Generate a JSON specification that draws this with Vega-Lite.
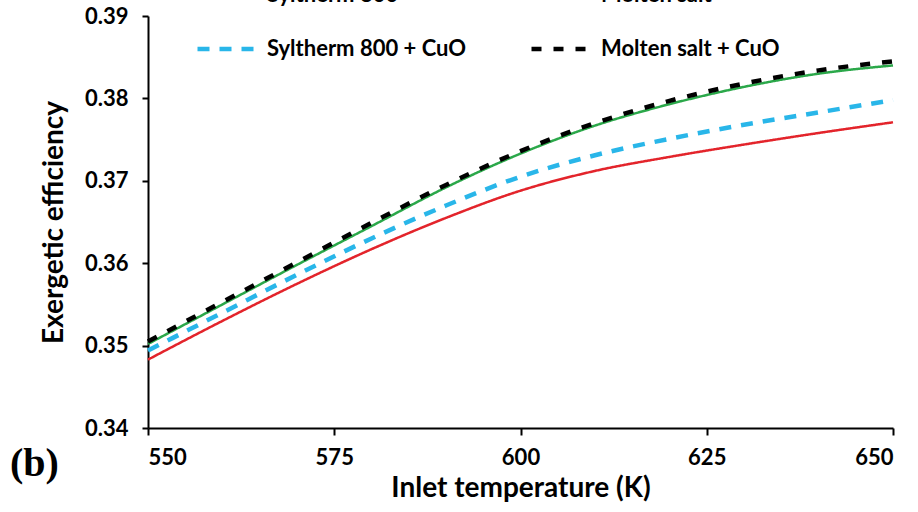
{
  "$schema": "https://vega.github.io/schema/vega-lite/v6.json",
  "autosize": {"type": "none"},
  "width": 745,
  "height": 412,
  "padding": {"left": 148, "top": 16, "right": 25, "bottom": 84},
  "background": "white",
  "title": {
    "text": "(b)",
    "orient": "bottom",
    "anchor": "start",
    "frame": "group",
    "font": "Liberation Serif",
    "fontSize": 40,
    "fontWeight": "bold",
    "color": "black",
    "dx": -138,
    "dy": -58,
    "offset": 0
  },
  "data": {
    "values": [
      {"T": 550, "E": 0.3483, "s": "Syltherm 800"},
      {"T": 560, "E": 0.3530, "s": "Syltherm 800"},
      {"T": 570, "E": 0.3575, "s": "Syltherm 800"},
      {"T": 580, "E": 0.3617, "s": "Syltherm 800"},
      {"T": 590, "E": 0.3655, "s": "Syltherm 800"},
      {"T": 600, "E": 0.3688, "s": "Syltherm 800"},
      {"T": 610, "E": 0.3712, "s": "Syltherm 800"},
      {"T": 620, "E": 0.3729, "s": "Syltherm 800"},
      {"T": 630, "E": 0.3744, "s": "Syltherm 800"},
      {"T": 640, "E": 0.3758, "s": "Syltherm 800"},
      {"T": 650, "E": 0.3771, "s": "Syltherm 800"},
      {"T": 550, "E": 0.3502, "s": "Molten salt"},
      {"T": 560, "E": 0.3550, "s": "Molten salt"},
      {"T": 570, "E": 0.3598, "s": "Molten salt"},
      {"T": 580, "E": 0.3645, "s": "Molten salt"},
      {"T": 590, "E": 0.3692, "s": "Molten salt"},
      {"T": 600, "E": 0.3733, "s": "Molten salt"},
      {"T": 610, "E": 0.3767, "s": "Molten salt"},
      {"T": 620, "E": 0.3793, "s": "Molten salt"},
      {"T": 630, "E": 0.3814, "s": "Molten salt"},
      {"T": 640, "E": 0.3830, "s": "Molten salt"},
      {"T": 650, "E": 0.3840, "s": "Molten salt"},
      {"T": 550, "E": 0.3494, "s": "Syltherm 800 + CuO"},
      {"T": 560, "E": 0.3540, "s": "Syltherm 800 + CuO"},
      {"T": 570, "E": 0.3586, "s": "Syltherm 800 + CuO"},
      {"T": 580, "E": 0.3630, "s": "Syltherm 800 + CuO"},
      {"T": 590, "E": 0.3670, "s": "Syltherm 800 + CuO"},
      {"T": 600, "E": 0.3705, "s": "Syltherm 800 + CuO"},
      {"T": 610, "E": 0.3731, "s": "Syltherm 800 + CuO"},
      {"T": 620, "E": 0.3751, "s": "Syltherm 800 + CuO"},
      {"T": 630, "E": 0.3768, "s": "Syltherm 800 + CuO"},
      {"T": 640, "E": 0.3783, "s": "Syltherm 800 + CuO"},
      {"T": 650, "E": 0.3798, "s": "Syltherm 800 + CuO"},
      {"T": 550, "E": 0.3505, "s": "Molten salt + CuO"},
      {"T": 560, "E": 0.3553, "s": "Molten salt + CuO"},
      {"T": 570, "E": 0.3601, "s": "Molten salt + CuO"},
      {"T": 580, "E": 0.3649, "s": "Molten salt + CuO"},
      {"T": 590, "E": 0.3695, "s": "Molten salt + CuO"},
      {"T": 600, "E": 0.3736, "s": "Molten salt + CuO"},
      {"T": 610, "E": 0.3770, "s": "Molten salt + CuO"},
      {"T": 620, "E": 0.3797, "s": "Molten salt + CuO"},
      {"T": 630, "E": 0.3818, "s": "Molten salt + CuO"},
      {"T": 640, "E": 0.3834, "s": "Molten salt + CuO"},
      {"T": 650, "E": 0.3845, "s": "Molten salt + CuO"}
    ]
  },
  "encoding": {
    "x": {
      "field": "T",
      "type": "quantitative",
      "scale": {"domain": [550, 650], "nice": false, "zero": false},
      "axis": {
        "values": [550, 575, 600, 625, 650],
        "title": "Inlet temperature (K)",
        "grid": false,
        "tickSize": 7,
        "labelPadding": 12,
        "titlePadding": 6
      }
    },
    "y": {
      "field": "E",
      "type": "quantitative",
      "scale": {"domain": [0.34, 0.39], "nice": false, "zero": false},
      "axis": {
        "values": [0.34, 0.35, 0.36, 0.37, 0.38, 0.39],
        "format": ".2f",
        "title": "Exergetic efficiency",
        "grid": false,
        "tickSize": 6,
        "labelPadding": 14,
        "titlePadding": 16
      }
    },
    "color": {
      "field": "s",
      "type": "nominal",
      "sort": null,
      "scale": {
        "domain": ["Syltherm 800", "Molten salt", "Syltherm 800 + CuO", "Molten salt + CuO"],
        "range": ["#E3242B", "#2BA84A", "#29B6E9", "#000000"]
      },
      "legend": {
        "title": null,
        "orient": "none",
        "legendX": 47,
        "legendY": -55,
        "direction": "horizontal",
        "columns": 2,
        "columnPadding": 55,
        "rowPadding": 9,
        "symbolType": "stroke",
        "symbolSize": 3969,
        "symbolStrokeWidth": 4.5,
        "labelFont": "Lato",
        "labelFontSize": 22,
        "labelFontWeight": "bold",
        "labelColor": "black",
        "labelOffset": 4,
        "labelLimit": 400
      }
    },
    "strokeDash": {
      "field": "s",
      "type": "nominal",
      "sort": null,
      "scale": {
        "domain": ["Syltherm 800", "Molten salt", "Syltherm 800 + CuO", "Molten salt + CuO"],
        "range": [[1, 0], [1, 0], [12, 10], [10, 12]]
      },
      "legend": {
        "title": null,
        "orient": "none",
        "legendX": 47,
        "legendY": -55,
        "direction": "horizontal",
        "columns": 2,
        "columnPadding": 55,
        "rowPadding": 9,
        "symbolType": "stroke",
        "symbolSize": 3969,
        "symbolStrokeWidth": 4.5,
        "labelFont": "Lato",
        "labelFontSize": 22,
        "labelFontWeight": "bold",
        "labelColor": "black",
        "labelOffset": 4,
        "labelLimit": 400
      }
    }
  },
  "layer": [
    {
      "transform": [{"filter": {"field": "s", "oneOf": ["Syltherm 800", "Molten salt"]}}],
      "mark": {"type": "line", "interpolate": "monotone", "clip": false, "strokeWidth": 2.5}
    },
    {
      "transform": [{"filter": {"field": "s", "oneOf": ["Syltherm 800 + CuO", "Molten salt + CuO"]}}],
      "mark": {"type": "line", "interpolate": "monotone", "clip": false, "strokeWidth": 4.5}
    }
  ],
  "config": {
    "view": {"stroke": null},
    "axis": {
      "domainColor": "black",
      "domainWidth": 2,
      "tickColor": "black",
      "tickWidth": 2,
      "labelFont": "Lato",
      "labelFontSize": 22,
      "labelFontWeight": "bold",
      "labelColor": "black",
      "titleFont": "Lato",
      "titleFontSize": 28,
      "titleFontWeight": "bold",
      "titleColor": "black"
    }
  }
}
